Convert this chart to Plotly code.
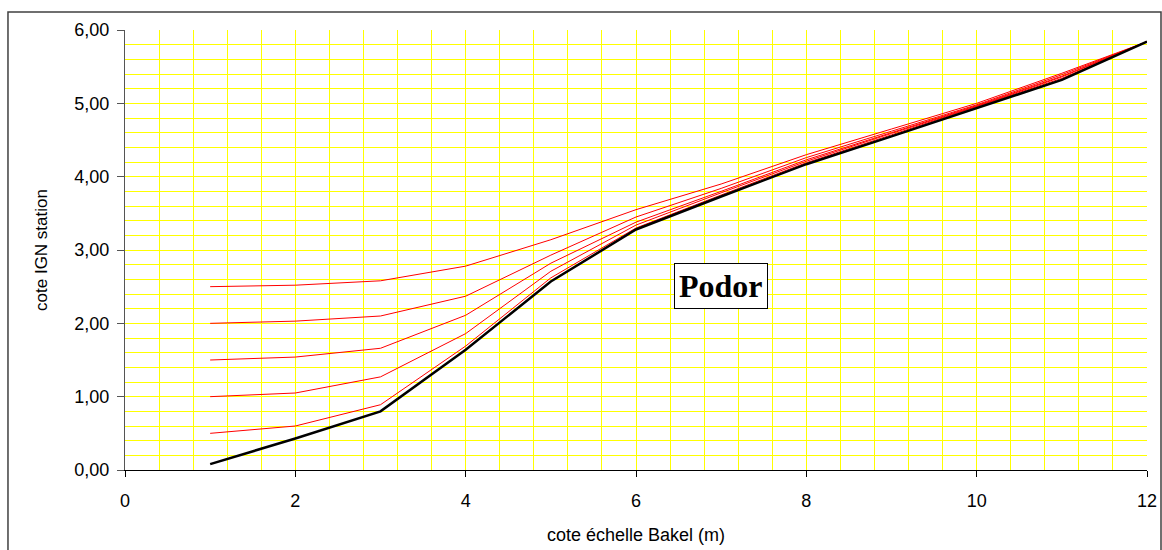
import plotly.graph_objects as go

x_vals = [1, 2, 3, 4, 5, 6, 7, 8, 9, 10, 11, 12]

black_curve = [0.08, 0.43, 0.80, 1.64, 2.57, 3.28, 3.73, 4.17, 4.55, 4.94, 5.32, 5.84]

red_050 = [0.50, 0.60, 0.89, 1.69, 2.62, 3.30, 3.75, 4.19, 4.57, 4.95, 5.34, 5.84]
red_100 = [1.00, 1.05, 1.27, 1.86, 2.71, 3.34, 3.78, 4.21, 4.59, 4.96, 5.36, 5.84]
red_150 = [1.50, 1.54, 1.66, 2.11, 2.82, 3.38, 3.80, 4.23, 4.60, 4.97, 5.37, 5.84]
red_200 = [2.00, 2.03, 2.10, 2.37, 2.93, 3.45, 3.84, 4.26, 4.62, 4.98, 5.39, 5.84]
red_250 = [2.50, 2.52, 2.58, 2.78, 3.14, 3.55, 3.90, 4.30, 4.65, 5.00, 5.41, 5.84]

red_series = [red_050, red_100, red_150, red_200, red_250]

fig = go.Figure()
for s in red_series:
    fig.add_trace(go.Scatter(x=x_vals, y=s, mode="lines",
                             line=dict(color="#FF0000", width=1), showlegend=False))
fig.add_trace(go.Scatter(x=x_vals, y=black_curve, mode="lines",
                         line=dict(color="#000000", width=2.5), showlegend=False))

fig.add_annotation(x=7.0, y=2.51, xref="x", yref="y", text="<b>Podor</b>",
                   showarrow=False, font=dict(family="Liberation Serif", size=32, color="black"),
                   bordercolor="black", borderwidth=1, bgcolor="white", borderpad=4)

fig.add_shape(type="rect", xref="paper", yref="paper",
              x0=-0.1145, x1=1.0137, y0=-0.25, y1=1.0409,
              line=dict(color="#404040", width=1.5), layer="below")

fig.update_layout(
    width=1162, height=550,
    margin=dict(l=125, r=15, t=30, b=80),
    separators=", ",
    paper_bgcolor="white", plot_bgcolor="white",
    font=dict(family="Liberation Sans", color="black"),
    xaxis=dict(range=[0, 12], tickmode="linear", tick0=0, dtick=2, ticks="outside", ticklen=6,
               tickcolor="black", showline=True, linecolor="black", linewidth=1,
               showgrid=True, gridcolor="#FFFF00", gridwidth=1, zeroline=False,
               minor=dict(dtick=0.4, tick0=0, showgrid=True, gridcolor="#FFFF00", gridwidth=1),
               ticklabelstandoff=8, automargin=False,
               tickfont=dict(size=18), title=dict(text="cote échelle Bakel (m)", font=dict(size=18), standoff=18)),
    yaxis=dict(range=[0, 6], tickmode="linear", tick0=0, dtick=1, tickformat=".2f", ticks="outside", ticklen=7,
               tickcolor="#555555", showline=True, linecolor="#555555", linewidth=1,
               showgrid=True, gridcolor="#FFFF00", gridwidth=1, zeroline=False,
               minor=dict(dtick=0.2, tick0=0, showgrid=True, gridcolor="#FFFF00", gridwidth=1),
               ticklabelstandoff=4, automargin=False,
               tickfont=dict(size=18), title=dict(text="cote IGN station", font=dict(size=17), standoff=22)),
)

fig.write_html("out.html")
